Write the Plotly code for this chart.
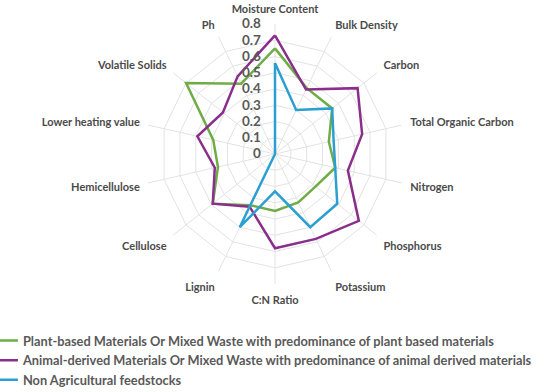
import plotly.graph_objects as go

categories = ["Moisture Content", "Bulk Density", "Carbon", "Total Organic Carbon",
              "Nitrogen", "Phosphorus", "Potassium", "C:N Ratio", "Lignin",
              "Cellulose", "Hemicellulose", "Lower heating value", "Volatile Solids", "Ph"]

plant_based = [0.65, 0.45, 0.45, 0.34, 0.38, 0.32, 0.33, 0.35, 0.35, 0.49, 0.36, 0.39, 0.70, 0.48]
animal_derived = [0.73, 0.44, 0.65, 0.55, 0.46, 0.66, 0.58, 0.58, 0.36, 0.49, 0.38, 0.49, 0.41, 0.53]
non_agricultural = [0.56, 0.30, 0.45, 0.37, 0.38, 0.49, 0.50, 0.23, 0.50, 0, 0, 0, 0, 0]

series_names = [
    "Plant-based Materials Or Mixed Waste with predominance of plant based materials",
    "Animal-derived Materials Or Mixed Waste with predominance of animal derived materials",
    "Non Agricultural feedstocks",
]
series_values = [plant_based, animal_derived, non_agricultural]
series_colors = ["#6FAC46", "#8A2E8C", "#2B9FD1"]

radial_ticks = [0, 0.1, 0.2, 0.3, 0.4, 0.5, 0.6, 0.7, 0.8]

fig = go.Figure()
for name, vals, col in zip(series_names, series_values, series_colors):
    fig.add_trace(go.Scatterpolar(
        r=vals + [vals[0]],
        theta=categories + [categories[0]],
        mode="lines",
        name=name,
        line=dict(color=col, width=2.5),
    ))

W, H = 550, 392
cx, cy, R = 275, 154, 130
fig.update_layout(
    width=W, height=H,
    margin=dict(l=0, r=0, t=0, b=0, autoexpand=False),
    paper_bgcolor="white",
    plot_bgcolor="white",
    font=dict(family="Lato, 'Open Sans', sans-serif", color="#595959"),
    polar=dict(
        domain=dict(x=[(cx - R) / W, (cx + R) / W],
                    y=[(H - cy - R) / H, (H - cy + R) / H]),
        bgcolor="white",
        gridshape="linear",
        angularaxis=dict(
            rotation=90, direction="clockwise",
            showline=False,
            gridcolor="#E3E3E3", gridwidth=1,
            tickfont=dict(size=11, color="#4A4A4A", family="Lato, sans-serif", weight="bold"),
            ticks="outside", ticklen=6, tickcolor="rgba(0,0,0,0)",
        ),
        radialaxis=dict(
            range=[0, 0.8],
            tickvals=radial_ticks,
            ticktext=[("%g" % v) for v in radial_ticks],
            angle=90,
            tickangle=90,
            side="counterclockwise",
            showline=False,
            ticks="outside", ticklen=9, tickcolor="rgba(0,0,0,0)",
            gridcolor="#E3E3E3", gridwidth=1,
            tickfont=dict(size=13.5, color="#595959", family="Lato, sans-serif", weight="bold"),
        ),
    ),
    showlegend=True,
    legend=dict(
        x=-0.031, y=-0.007, xanchor="left", yanchor="bottom",
        orientation="v",
        font=dict(size=12.8, color="#595959", family="Lato, sans-serif", weight="bold"),
        itemwidth=30,
        tracegroupgap=0,
        bgcolor="rgba(0,0,0,0)",
    ),
)

fig.write_html("out.html", config={"displayModeBar": False},
               post_script="document.body.style.margin='0';")
